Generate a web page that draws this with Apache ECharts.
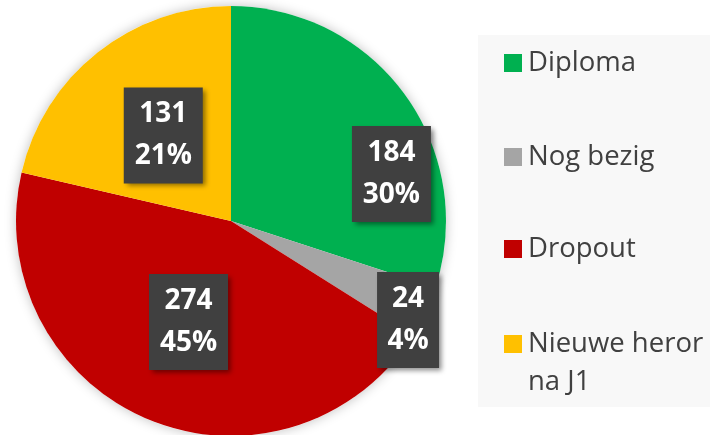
<!DOCTYPE html>
<html>
<head>
<meta charset="utf-8">
<script src="https://cdn.jsdelivr.net/npm/echarts@6/dist/echarts.min.js"></script>
<style>
  html, body { margin: 0; padding: 0; background: #fff; }
  #chart { width: 710px; height: 435px; }
</style>
</head>
<body>
<div id="chart"></div>
<script>
const categories = ['Diploma', 'Nog bezig', 'Dropout', 'Nieuwe heror\nna J1'];
const counts = [184, 24, 274, 131];
const colors = ['#00b050', '#a5a5a5', '#c00000', '#ffc000'];
// label shift from the slice's inner position, and box width
const labelShift = [[71, 18], [77, 52], [0, -1], [1, 1]];
const labelWidth = [79, 62, 79, 79];
// top of each legend entry
const legendTops = [44, 138, 230, 287];

const chart = echarts.init(document.getElementById('chart'));

const total = counts.reduce((a, b) => a + b, 0);

const pieData = categories.map((name, i) => ({
  name: name,
  value: counts[i],
  itemStyle: { color: colors[i] },
  label: { offset: labelShift[i], width: labelWidth[i] }
}));

const legends = categories.map((name, i) => ({
  orient: 'vertical',
  left: 504,
  top: legendTops[i],
  padding: 0,
  icon: 'rect',
  itemWidth: 18,
  itemHeight: 18,
  selectedMode: false,
  // an empty first line keeps a wrapped name level with its square
  formatter: n => (n.indexOf('\n') >= 0 ? ' \n' + n : n),
  textStyle: {
    fontFamily: 'Open Sans',
    fontSize: 27.5,
    lineHeight: 38,
    color: '#404040',
    padding: [0, 0, 0, 1]
  },
  data: [name]
}));

const options = {
  animation: false,
  graphic: [
    {
      type: 'rect',
      left: 478,
      top: 35,
      shape: { width: 232, height: 372 },
      style: { fill: '#f8f8f8' },
      z: -10
    }
  ],
  legend: legends,
  series: [
    {
      // soft glow behind the pie
      type: 'pie',
      center: [231, 221],
      radius: 215,
      silent: true,
      z: 1,
      label: { show: false },
      itemStyle: {
        color: '#ffffff',
        shadowBlur: 12,
        shadowColor: 'rgba(0,0,0,0.25)'
      },
      data: [{ name: 'all', value: total }]
    },
    {
      type: 'pie',
      center: [231, 221],
      radius: 215,
      startAngle: 90,
      clockwise: true,
      z: 2,
      percentPrecision: 0,
      label: {
        show: true,
        position: 'inside',
        formatter: '{c}\n{d}%',
        fontFamily: 'Open Sans',
        fontWeight: 'bold',
        fontSize: 28,
        lineHeight: 42,
        color: '#ffffff',
        backgroundColor: '#404040',
        padding: [6, 0, 6, 0],
        align: 'center',
        shadowColor: 'rgba(0,0,0,0.45)',
        shadowBlur: 5,
        shadowOffsetX: 3,
        shadowOffsetY: 3
      },
      labelLine: { show: false },
      emphasis: { disabled: true },
      data: pieData
    }
  ]
};

chart.setOption(options);
</script>
</body>
</html>
